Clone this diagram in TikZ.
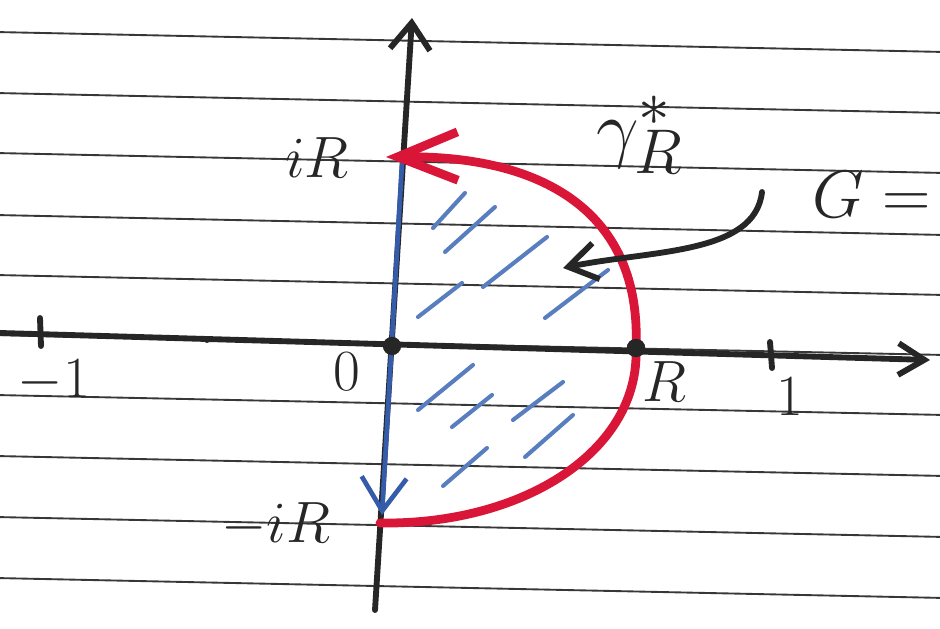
\documentclass[tikz,border=0pt]{standalone}
\usetikzlibrary{arrows.meta}
\definecolor{penred}{RGB}{218,22,56}
\definecolor{penblue}{RGB}{52,92,170}
\definecolor{hatchblue}{RGB}{88,126,192}
\definecolor{ink}{RGB}{38,38,38}
\definecolor{rulegray}{RGB}{55,55,55}

\begin{document}
\begin{tikzpicture}[
		x=0.03cm, y=-0.03cm,
		line cap=round, line join=round,
		ruled/.style={draw=rulegray, line width=1.6pt},
		axisline/.style={draw=ink, line width=5pt},
		tickmark/.style={draw=ink, line width=5pt},
		pointdot/.style={circle, fill=ink, inner sep=0pt, minimum size=0.55cm},
		lbl/.style={text=ink, inner sep=0pt, font=\Huge, scale=2, transform shape},
		contour/.style={draw=penred, line width=7.5pt},
		segment/.style={draw=penblue, line width=4pt},
		hatch/.style={draw=hatchblue, line width=3.5pt},
		pointer/.style={draw=ink, line width=5pt}
		]
		
		\useasboundingbox[fill=white] (0,0) rectangle (940,629);
		
		% --------------------------------------------------
		% Ruled paper
		% --------------------------------------------------
		\foreach \y in {32,93,153,215,275,335,395,456,517,578}
		\draw[ruled] (-5,\y) -- (945,\y+20);
		
		% --------------------------------------------------
		% Axes
		% --------------------------------------------------
		\coordinate (xstart) at (0,333);
		\coordinate (xend) at (930,360);
		\coordinate (ystart) at (375,610);
		\coordinate (yend) at (412,18);
		
		\draw[axisline, -{Straight Barb[length=0.78cm,width=0.95cm]}] (xstart) -- (xend);
		\draw[axisline, -{Straight Barb[length=0.8cm,width=1.2cm]}] (ystart) -- (yend);
		
		\draw[tickmark] (40,318) -- (41,346);
		\draw[tickmark] (770,342) -- (772,368);
		\fill[ink] (207,340) circle (3);
		
		% points on the contour
		\coordinate (iRp) at (386,157);
		\coordinate (miRp) at (380,523);
		\coordinate (bTop) at (402,163);
		\coordinate (bBot) at (382,515);
		
		% --------------------------------------------------
		% Hatched region
		% --------------------------------------------------
		\foreach \a/\b/\c/\d in {433/228/465/193, 445/252/495/207, 483/287/547/237,
			418/317/462/283, 545/318/608/270, 418/410/473/365, 452/427/492/395,
			513/420/563/382, 525/457/573/415, 443/486/487/448}
		\draw[hatch] (\a,\b) -- (\c,\d);
		
		% --------------------------------------------------
		% Contour
		% --------------------------------------------------
		\draw[segment, -{Straight Barb[length=1.0cm,width=1.35cm]}] (bTop) -- (bBot);
		
		\node[pointdot] (Rp) at (636,348) {};
		
		\draw[contour, -{Straight Barb[length=1.8cm,width=1.45cm]}] (miRp)
		.. controls (525,525) and (640,450) .. (Rp.center)
		.. controls (642,210) and (540,155) .. (iRp);
		
		\node[pointdot] (O) at (392,346) {};
		\node[pointdot] at (Rp.center) {};
		
		% --------------------------------------------------
		% Pointer to G
		% --------------------------------------------------
		\coordinate (gtail) at (762,192);
		\coordinate (gtip) at (563,268);
		\draw[pointer, -{Straight Barb[length=0.85cm,width=1.1cm]}] (gtail)
		.. controls (755,255) and (650,250) .. (gtip);
		
		% --------------------------------------------------
		% Labels
		% --------------------------------------------------
		\node[lbl] (lblIR) at (317,158) {$iR$};
		\node[lbl] (lblmIR) at (276,525) {$-iR$};
		\node[lbl] (lblO) at (347,372) {$0$};
		\node[lbl] (lblmOne) at (54,381) {$-1$};
		\node[lbl] (lblR) at (664,382) {$R$};
		\node[lbl] (lblOne) at (790,397) {$1$};
		\node[lbl, scale=1.3] (lblGamma) at (640,135) {$\gamma_R^*$};
		\node[lbl, anchor=west, scale=1.15] (lblG) at (812,195) {$G=$};
		
	\end{tikzpicture}
\end{document}
